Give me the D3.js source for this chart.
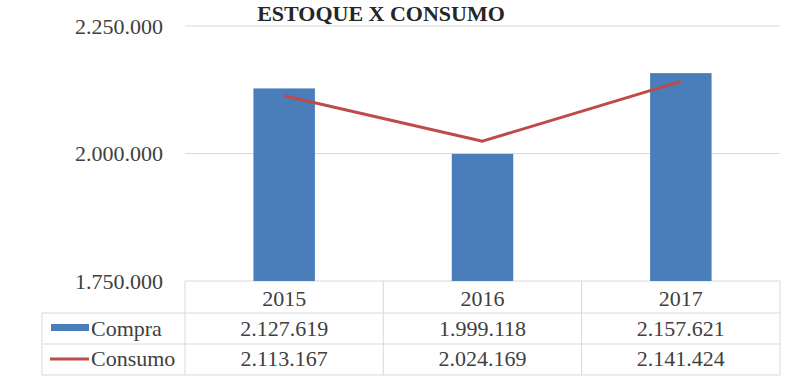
<!DOCTYPE html>
<html><head><meta charset="utf-8">
<script src="https://cdn.jsdelivr.net/npm/d3@7"></script>
<style>body{margin:0;background:#fff}svg{display:block}</style>
</head><body><svg id="c" width="795" height="383"></svg>
<script>
const title = "ESTOQUE X CONSUMO";
const categories = ["2015", "2016", "2017"];
const compra = [2127619, 1999118, 2157621];
const consumo = [2113167, 2024169, 2141424];
const seriesNames = ["Compra", "Consumo"];
const yTicks = [1750000, 2000000, 2250000];

const loc = d3.formatLocale({decimal: ",", thousands: ".", grouping: [3], currency: ["", ""]});
const fmt = loc.format(",d");
const FONT = '"Liberation Serif", "Times New Roman", serif';

const svg = d3.select("#c");
const pLeft = 185, pRight = 780, pTop = 26, pBottom = 281;
const x = d3.scaleBand().domain(categories).range([pLeft, pRight]).paddingInner(0).paddingOuter(0);
const y = d3.scaleLinear().domain([1750000, 2250000]).range([pBottom, pTop]);
const gridCol = "#d9d9d9", txtCol = "#404040";
const blue = "#4a7ebb", red = "#be4b48";

// gridlines
svg.append("g").selectAll("line").data(yTicks).join("line")
  .attr("x1", pLeft).attr("x2", pRight).attr("y1", d => y(d)).attr("y2", d => y(d))
  .attr("stroke", gridCol).attr("stroke-width", 1);

// y axis labels
const yAxis = d3.axisLeft(y).tickValues(yTicks).tickFormat(fmt).tickSize(0).tickPadding(22);
const ga = svg.append("g").attr("transform", `translate(${pLeft},0)`).call(yAxis);
ga.select(".domain").remove();
ga.selectAll("text").style("font-family", FONT).style("font-size", "22px").attr("fill", txtCol);

// bars
const bw = x.bandwidth() * 0.31;
svg.append("g").selectAll("rect").data(categories).join("rect")
  .attr("x", d => x(d) + x.bandwidth() / 2 - bw / 2)
  .attr("width", bw)
  .attr("y", (d, i) => y(compra[i]))
  .attr("height", (d, i) => pBottom - y(compra[i]))
  .attr("fill", blue);

// line
const line = d3.line().x((d, i) => x(categories[i]) + x.bandwidth() / 2).y(d => y(d));
svg.append("path").datum(consumo).attr("d", line)
  .attr("fill", "none").attr("stroke", red).attr("stroke-width", 3).attr("stroke-linejoin", "round");

// title
svg.append("text").attr("x", 381).attr("y", 21).attr("text-anchor", "middle")
  .style("font-family", FONT).style("font-size", "22px").style("font-weight", "bold").attr("fill", "#262626").text(title);

// data table
const rowY = [281, 313, 344, 375];
const tleft = 42;
const tg = svg.append("g").attr("stroke", gridCol).attr("stroke-width", 1);
tg.append("line").attr("x1", tleft).attr("x2", pRight).attr("y1", rowY[1]).attr("y2", rowY[1]);
tg.append("line").attr("x1", tleft).attr("x2", pRight).attr("y1", rowY[2]).attr("y2", rowY[2]);
tg.append("line").attr("x1", tleft).attr("x2", pRight).attr("y1", rowY[3]).attr("y2", rowY[3]);
tg.append("line").attr("x1", tleft).attr("x2", tleft).attr("y1", rowY[1]).attr("y2", rowY[3]);
const vx = categories.map(c => x(c)).concat([pRight]);
tg.selectAll(".v").data(vx).join("line").attr("class", "v")
  .attr("x1", d => d).attr("x2", d => d).attr("y1", rowY[0]).attr("y2", rowY[3]);

// header
svg.append("g").selectAll("text").data(categories).join("text")
  .attr("x", d => x(d) + x.bandwidth() / 2).attr("y", 306).attr("text-anchor", "middle")
  .style("font-family", FONT).style("font-size", "22px").attr("fill", txtCol).text(d => d);
[compra, consumo].forEach((arr, r) => {
  svg.append("g").selectAll("text").data(arr).join("text")
    .attr("x", (d, i) => x(categories[i]) + x.bandwidth() / 2).attr("y", 336 + r * 30).attr("text-anchor", "middle")
    .style("font-family", FONT).style("font-size", "22px").attr("fill", txtCol).text(d => fmt(d));
});
// legend keys
svg.append("rect").attr("x", 51).attr("y", 324).attr("width", 38).attr("height", 7).attr("fill", blue);
svg.append("line").attr("x1", 50).attr("x2", 89).attr("y1", 359).attr("y2", 359).attr("stroke", red).attr("stroke-width", 3);
seriesNames.forEach((n, r) => {
  svg.append("text").attr("x", 91).attr("y", 336 + r * 30)
    .style("font-family", FONT).style("font-size", "22px").attr("fill", txtCol).text(n);
});
</script></body></html>
